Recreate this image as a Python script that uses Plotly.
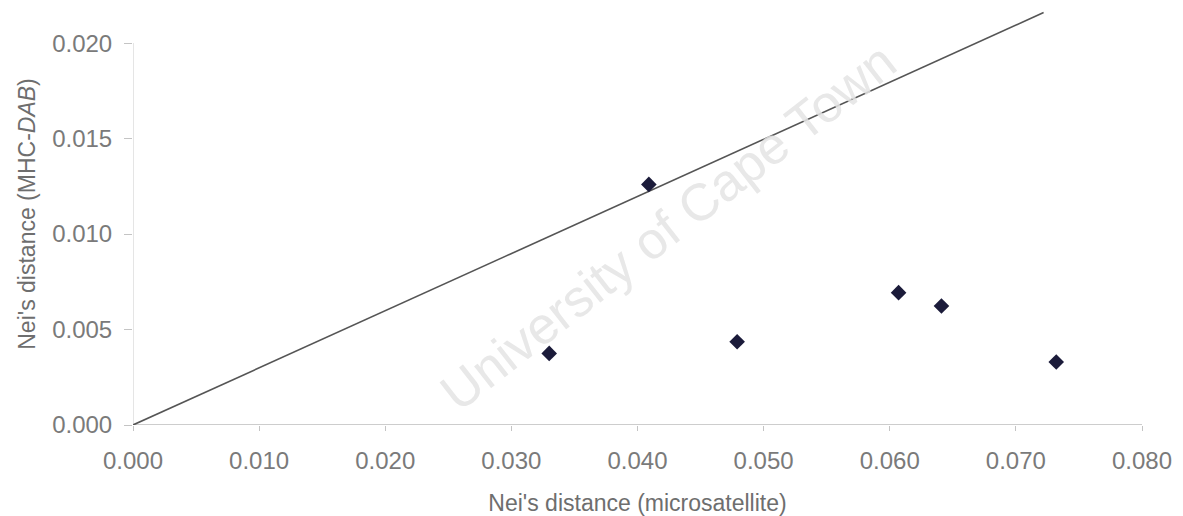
import plotly.graph_objects as go

# Data
micro_x = [0.0330, 0.0409, 0.0479, 0.0607, 0.0641, 0.0732]
mhc_y = [0.00375, 0.0126, 0.00436, 0.00693, 0.00623, 0.00330]

line_x = [0.0, 0.0722]
line_y = [0.0, 0.0216]

x_ticks = [0.000, 0.010, 0.020, 0.030, 0.040, 0.050, 0.060, 0.070, 0.080]
x_tick_text = ["0.000", "0.010", "0.020", "0.030", "0.040", "0.050", "0.060", "0.070", "0.080"]
y_ticks = [0.000, 0.005, 0.010, 0.015, 0.020]
y_tick_text = ["0.000", "0.005", "0.010", "0.015", "0.020"]

FONT = "Liberation Sans, Arial, sans-serif"

fig = go.Figure()

fig.add_trace(go.Scatter(
    x=line_x, y=line_y, mode="lines",
    line=dict(color="#555555", width=1.6),
    hoverinfo="skip", showlegend=False,
))
fig.add_trace(go.Scatter(
    x=micro_x, y=mhc_y, mode="markers",
    marker=dict(symbol="diamond", size=12, color="#1b1b3a"),
    showlegend=False,
))

# faint axis lines
fig.add_shape(type="line", xref="x", yref="y", x0=0, x1=0, y0=0, y1=0.020,
              line=dict(color="#d4d4d4", width=1.2), layer="below")
fig.add_shape(type="line", xref="x", yref="y", x0=0, x1=0.080, y0=0, y1=0,
              line=dict(color="#bdbdbd", width=1.4), layer="below")

# scan watermark
fig.add_annotation(
    text="University of Cape Town", xref="paper", yref="paper",
    x=0.53, y=0.47, showarrow=False, textangle=-38,
    font=dict(family=FONT, size=52, color="#e4e4e4"), opacity=0.85,
)

fig.update_layout(
    width=1183, height=516,
    margin=dict(l=133, r=41, t=3, b=91),
    paper_bgcolor="white", plot_bgcolor="white",
    font=dict(family=FONT, color="#777777"),
    xaxis=dict(
        range=[0, 0.080], tickvals=x_ticks, ticktext=x_tick_text,
        showgrid=False, zeroline=False, showline=False,
        ticks="outside", ticklen=5, tickcolor="#c4c4c4",
        tickfont=dict(size=24, color="#7a7a7a"), ticklabelstandoff=9,
        title=dict(text="Nei's distance (microsatellite)",
                   font=dict(size=23, color="#6e6e6e"), standoff=22),
    ),
    yaxis=dict(
        range=[0, 0.0221], tickvals=y_ticks, ticktext=y_tick_text,
        showgrid=False, zeroline=False, showline=False,
        ticks="outside", ticklen=8, tickcolor="#c4c4c4",
        tickfont=dict(size=24, color="#7a7a7a"), ticklabelstandoff=7,
        title=dict(text="Nei's distance (MHC-<i>DAB</i>)",
                   font=dict(size=23, color="#6e6e6e"), standoff=10),
    ),
)

fig.write_html("out.html")
